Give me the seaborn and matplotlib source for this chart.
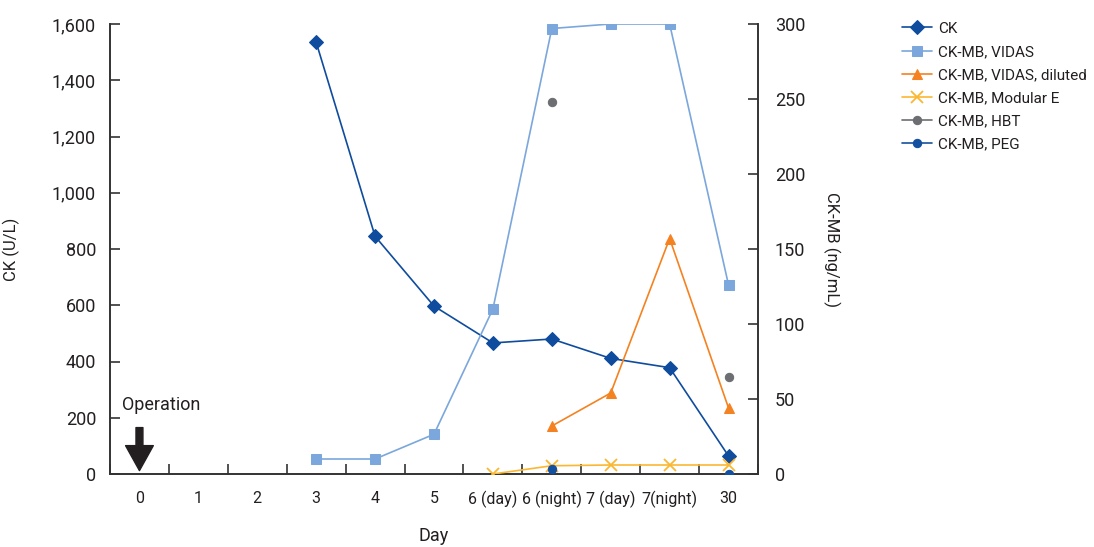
import numpy as np
import pandas as pd
import matplotlib
matplotlib.use("Agg")
import matplotlib.pyplot as plt
import seaborn as sns

# x categories
days = ["0", "1", "2", "3", "4", "5", "6 (day)", "6 (night)", "7 (day)", "7(night)", "30"]

# left axis: CK (U/L)
ck = [np.nan, np.nan, np.nan, 1535, 845, 597, 466, 480, 411, 378, 64]

# right axis: CK-MB (ng/mL)
vidas = [np.nan, np.nan, np.nan, 10, 10, 26.5, 110, 297, 300, 300, 126]
vidas_diluted = [np.nan, np.nan, np.nan, np.nan, np.nan, np.nan, np.nan, 32, 54, 157, 44]
modular_e = [np.nan, np.nan, np.nan, np.nan, np.nan, np.nan, 0, 5.5, 6, 6, 6]
hbt = [np.nan, np.nan, np.nan, np.nan, np.nan, np.nan, np.nan, 248, np.nan, np.nan, 65]
peg = [np.nan, np.nan, np.nan, np.nan, np.nan, np.nan, np.nan, 3.5, np.nan, np.nan, 0]

sns.set_theme(style="white")
plt.rcParams['font.family'] = ['Roboto', 'DejaVu Sans']
plt.rcParams['text.color'] = '#231f20'
plt.rcParams['axes.labelcolor'] = '#231f20'
plt.rcParams['xtick.color'] = '#231f20'
plt.rcParams['ytick.color'] = '#231f20'

fig = plt.figure(figsize=(10.94, 5.47), dpi=100)
ax = fig.add_axes([110 / 1094, 73 / 547, 648 / 1094, 450 / 547])
ax2 = ax.twinx()

x = np.arange(len(days))
df = pd.DataFrame({"x": x, "ck": ck, "vidas": vidas, "diluted": vidas_diluted,
                   "modular": modular_e, "hbt": hbt, "peg": peg})

lw = 1.2
sns.lineplot(data=df, x="x", y="ck", ax=ax, color="#0f4c9e", marker="D", markersize=7,
             markeredgecolor="#0f4c9e", linewidth=lw, label="CK")
sns.lineplot(data=df, x="x", y="vidas", ax=ax2, color="#7ba7dc", marker="s", markersize=7,
             markeredgecolor="#7ba7dc", linewidth=lw, label="CK-MB, VIDAS")
sns.lineplot(data=df, x="x", y="diluted", ax=ax2, color="#f58220", marker="^", markersize=7,
             markeredgecolor="#f58220", linewidth=lw, label="CK-MB, VIDAS, diluted")
sns.lineplot(data=df, x="x", y="modular", ax=ax2, color="#fbb731", marker="x", markersize=8,
             markeredgecolor="#fbb731", markeredgewidth=1.3, linewidth=lw, label="CK-MB, Modular E")
sns.lineplot(data=df, x="x", y="hbt", ax=ax2, color="#6d6e71", marker="o", markersize=6,
             markeredgecolor="#6d6e71", linewidth=lw, label="CK-MB, HBT")
sns.lineplot(data=df, x="x", y="peg", ax=ax2, color="#1450a0", marker="o", markersize=6,
             markeredgecolor="#1450a0", linewidth=lw, label="CK-MB, PEG")

# HBT / PEG are two separate points in the reference, not joined
for line in ax2.get_lines()[3:5]:
    line.set_linestyle("none")

for a in (ax, ax2):
    if a.get_legend() is not None:
        a.get_legend().remove()

ax.set_xlim(-0.5, 10.5)
ax.set_ylim(0, 1600)
ax2.set_ylim(0, 300)

ax.set_xticks(x)
ax.set_xticklabels(days, fontsize=11.5)
ax.set_xticks(np.arange(-0.5, 11, 1), minor=True)
ax.tick_params(axis="x", which="major", length=0, pad=12, bottom=True)
ax.tick_params(axis="x", which="minor", direction="in", length=7, width=1.2, color="#333333", bottom=True)

ax.set_yticks(np.arange(0, 1601, 200))
ax.set_yticklabels([f"{v:,}" for v in range(0, 1601, 200)], fontsize=13)
ax.tick_params(axis="y", direction="in", length=7, width=1.2, color="#333333", pad=10, left=True)
ax2.set_yticks(np.arange(0, 301, 50))
ax2.tick_params(axis="y", direction="in", length=7, width=1.2, color="#333333", labelsize=13, pad=12, right=True)

ax.set_xlabel("Day", fontsize=13, labelpad=14)
ax.set_ylabel("CK (U/L)", fontsize=12)
ax.yaxis.set_label_coords(-0.139, 0.5)
ax2.set_ylabel("CK-MB (ng/mL)", fontsize=12, rotation=270, va="center")
ax2.yaxis.set_label_coords(1.114, 0.5)

for a in (ax, ax2):
    a.spines["top"].set_visible(False)
    for s in ("left", "right", "bottom"):
        a.spines[s].set_color("#333333")
        a.spines[s].set_linewidth(1.4)
ax.spines["right"].set_visible(False)
ax2.spines["left"].set_visible(False)
ax2.spines["bottom"].set_visible(False)

# operation marker
ax.text(-0.3, 245, "Operation", fontsize=13, va="center", ha="left")
ax.annotate("", xy=(0, 12), xytext=(0, 165),
            arrowprops=dict(facecolor="#231f20", edgecolor="#231f20", width=5,
                            headwidth=20, headlength=18, shrink=0))

h1, l1 = ax.get_legend_handles_labels()
h2, l2 = ax2.get_legend_handles_labels()
leg = fig.legend(h1 + h2, l1 + l2, loc="upper left", bbox_to_anchor=(888 / 1094, 1 - 8 / 547),
                 frameon=False, fontsize=11, handlelength=2.0, labelspacing=0.6, handletextpad=0.4)
for ln in leg.get_lines()[4:6]:
    ln.set_linestyle("-")

plt.savefig("out.png", dpi=100)
plt.close()
